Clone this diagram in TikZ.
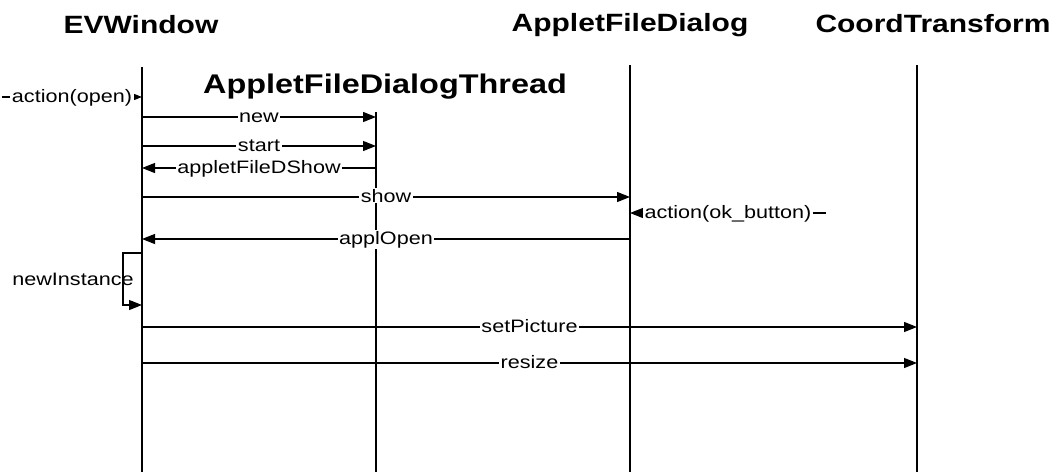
\documentclass[tikz,border=0pt]{standalone}
\usepackage{fontspec}
\setmainfont{Liberation Sans}[FakeStretch=1.2]
\usetikzlibrary{arrows.meta}
\begin{document}
\begin{tikzpicture}[x=1pt,y=1pt,
  lifeline/.style={line width=1.6pt},
  msg/.style={line width=1.1pt,-{Triangle[length=13pt,width=10pt]}},
  lbl/.style={fill=white,inner xsep=1.5pt,inner ysep=1pt,anchor=base,yshift=-5pt,
    font=\fontsize{18}{20}\selectfont},
  title/.style={anchor=base,inner sep=0pt,font=\fontsize{25}{28}\selectfont\bfseries},
]
\useasboundingbox (0,0) rectangle (1059,-472);

% object headers
\node[title] (ev) at (141,-33) {EVWindow};
\node[title] (dl) at (630,-31) {AppletFileDialog};
\node[title] (ct) at (933,-32) {CoordTransform};
\node[title,font=\fontsize{27}{30}\selectfont\bfseries] (th) at (385,-93) {AppletFileDialogThread};

% lifelines
\coordinate (evT) at (142,-67);  \coordinate (evB) at (142,-472);
\coordinate (thT) at (376,-112); \coordinate (thB) at (376,-472);
\coordinate (dlT) at (630,-65);  \coordinate (dlB) at (630,-472);
\coordinate (ctT) at (917,-65);  \coordinate (ctB) at (917,-472);
\draw[lifeline] (evT) -- (evB);
\draw[lifeline] (thT) -- (thB);
\draw[lifeline] (dlT) -- (dlB);
\draw[lifeline] (ctT) -- (ctB);

% message rows
\coordinate (r0) at (0,-97);
\coordinate (r1) at (0,-117);
\coordinate (r2) at (0,-146);
\coordinate (r3) at (0,-168);
\coordinate (r4) at (0,-197);
\coordinate (r5) at (0,-213);
\coordinate (r6) at (0,-239);
\coordinate (r7) at (0,-253);
\coordinate (r8) at (0,-305);
\coordinate (r9) at (0,-327);
\coordinate (r10) at (0,-363);

% external senders and the self-call corner
\coordinate (openSrc) at (2,-97);
\coordinate (okSrc) at (826,-213);
\coordinate (loopL) at (123,-253);

% messages
\draw[msg] (openSrc) -- node[lbl] {action(open)} (evT|-r0);
\draw[msg] (evT|-r1) -- node[lbl] {new} (thT|-r1);
\draw[msg] (evT|-r2) -- node[lbl] {start} (thT|-r2);
\draw[msg] (thT|-r3) -- node[lbl] {appletFileDShow} (evT|-r3);
\draw[msg] (evT|-r4) -- node[lbl] {show} (dlT|-r4);
\draw[msg] (okSrc) -- node[lbl] {action(ok\_button)} (dlT|-r5);
\draw[msg] (dlT|-r6) -- node[lbl] {applOpen} (evT|-r6);
\draw[msg] (evT|-r7) -- (loopL) |- (evT|-r8);
\node[lbl,fill=none] (ni) at (73,-280) {newInstance};
\draw[msg] (evT|-r9) -- node[lbl] {setPicture} (ctT|-r9);
\draw[msg] (evT|-r10) -- node[lbl] {resize} (ctT|-r10);
\end{tikzpicture}
\end{document}
